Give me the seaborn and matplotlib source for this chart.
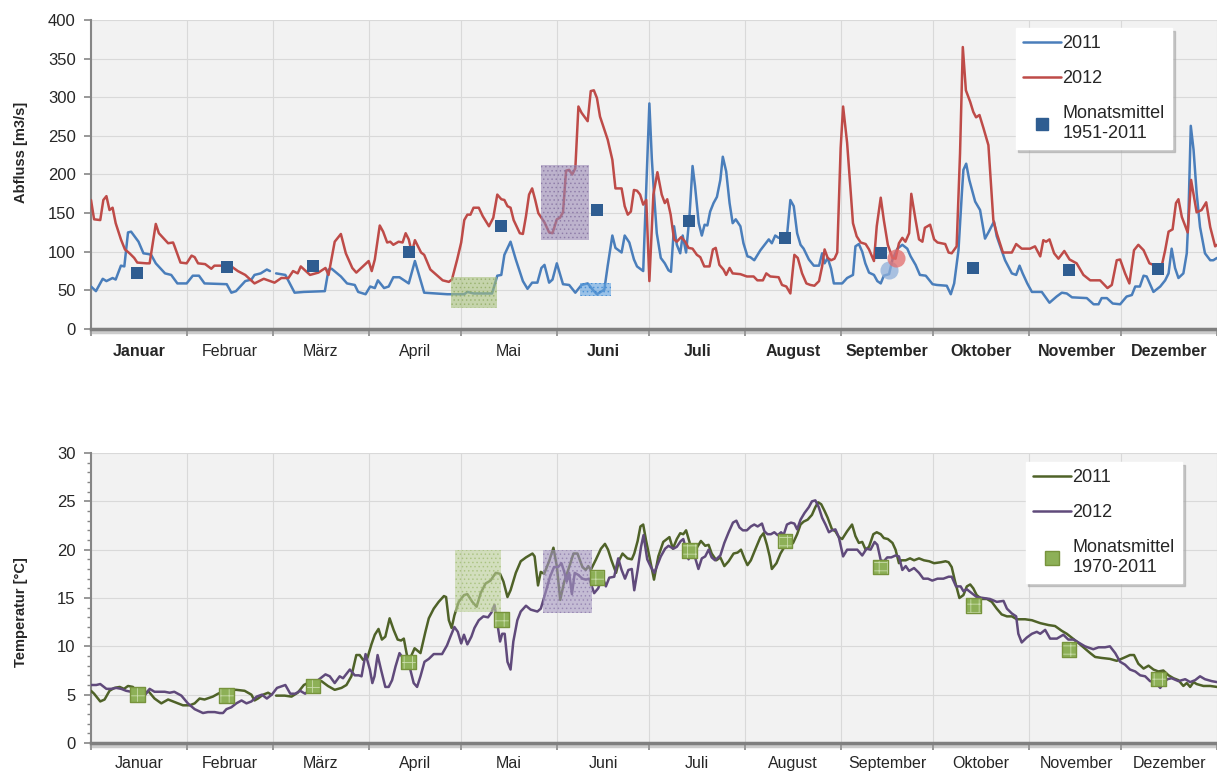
import numpy as np
import pandas as pd
import matplotlib
matplotlib.use("Agg")
import matplotlib.pyplot as plt
import matplotlib.patheffects as pe
from matplotlib.lines import Line2D
from matplotlib.ticker import FixedLocator, MultipleLocator
import seaborn as sns

# ---------------- data ----------------
months = ["Januar", "Februar", "März", "April", "Mai", "Juni", "Juli",
          "August", "September", "Oktober", "November", "Dezember"]
month_starts = [0, 31, 59, 90, 120, 151, 181, 212, 243, 273, 304, 334, 365]
month_centers = [15.5, 45, 74.5, 105, 135.5, 166, 196.5, 227.5, 258, 288.5, 319.5, 349.5]
mean_days = [15, 44, 72, 103, 133, 164, 194, 225, 256, 286, 317, 346]

q_mean = [73, 80, 82, 100, 133, 154, 140, 118, 98, 79, 76, 78]
t_mean = [5.0, 4.9, 5.9, 8.4, 12.8, 17.1, 19.9, 20.9, 18.2, 14.2, 9.7, 6.6]

q2011_days = [0, 1.6, 3.8, 5, 7, 8, 9.7, 10.8, 12, 13, 15.4, 17, 18.6, 19.5, 21, 24, 26, 28, 31, 33, 35, 36.8,
              44, 45.5, 47, 50, 52, 53, 55, 57, 58, 59,
              60, 63, 66, 69, 75.8, 77, 78, 81, 83, 85.5, 86.6, 89, 90.5, 92, 93, 95, 96.5, 98, 100, 103, 105,
              108, 115.5, 121, 122, 124, 130, 131.7, 133, 134, 136, 137.7, 140, 141.5, 143, 144.7, 146, 147,
              148.5, 149.6, 151, 153, 155, 157, 159, 161, 162.6, 164, 166.4, 167.5, 169, 170, 172, 173, 174.5,
              176, 177, 179, 181, 181.8, 182.5, 183.4, 184.7, 186, 187.2, 188, 189, 189.9, 191, 191.8, 192.9,
              194, 195, 195.8, 197, 198, 198.9, 199.8, 200.7, 201.8, 202.9, 204, 204.8, 205.9, 207, 208, 209,
              210.5, 211.5, 212.8, 213.7, 215, 217, 219.7, 220.7, 221.8, 222.9, 224, 225.4, 226.7, 227.8, 228.9,
              230, 231, 232.7, 234.3, 236, 237, 237.8, 238.8, 239.9, 240.8, 243.5, 245.1, 247, 247.8, 248.9,
              250, 251, 252.2, 253.8, 254.9, 256, 257, 258.7, 259.8, 261.4, 263, 264.6, 265.7, 267.3, 268.7,
              270.6, 272.8, 274.2, 277.4, 278.7, 279.8, 281.2, 282.3, 282.8, 283.7, 284.7, 286.6, 288.2, 289.8,
              290.9, 292.7, 293.6, 296.3, 298.5, 299.9, 301, 302, 303.5, 305, 308.2, 310.7, 313, 314.7, 316.3,
              318, 322.8, 325, 326.6, 327.6, 329.3, 331.2, 333.6, 335.7, 337.4, 338.5, 340, 341.2, 342.2, 344.4,
              346.6, 348.2, 349.3, 350.3, 351.4, 352.5, 354.1, 355.2, 355.7, 356.5, 357.4, 358.4, 359.5, 361.1,
              362.8, 363.8, 365]
q2011_vals = [55, 49, 65, 62, 66, 64, 82, 81, 125, 126, 113, 98, 97, 96, 85, 72, 70, 59, 59, 69, 69, 59,
              58, 47, 49, 62, 64, 70, 72, 77, 75, np.nan,
              72, 70, 47, 48, 49, 77, 78, 68, 59, 57, 48, 45, 55, 53, 63, 53, 55, 67, 67, 59, 88,
              47, 45, 45, 48, 46, 46, 69, 70, 96, 113, 90, 62, 52, 60, 60, 79, 83,
              60, 64, 85, 58, 57, 47, 57, 59, 51, 45, 51, 82, 121, 105, 99, 121, 112,
              90, 81, 75, 292, 220, 175, 124, 92, 85, 76, 74, 133, 109, 98, 121, 99,
              146, 211, 185, 137, 121, 135, 134, 152, 163, 171, 193, 223, 204, 163, 137, 142,
              133, 111, 94, 93, 89, 102, 116, 111, 121, 118, 118, 112, 167, 159, 124,
              109, 104, 90, 82, 82, 98, 85, 92, 78, 59, 59, 66, 70, 107, 110,
              100, 85, 73, 70, 62, 59, 69, 71, 90, 104, 109, 104, 94, 83, 70,
              69, 58, 57, 56, 45, 59, 102, 176, 206, 214, 193, 165, 154, 117,
              125, 139, 120, 89, 72, 70, 82, 72, 59, 48, 48, 34, 42, 47, 46,
              41, 40, 32, 32, 40, 40, 33, 32, 42, 44, 55, 55, 69, 68, 48,
              55, 63, 72, 104, 79, 66, 72, 98, 141, 263, 232, 176, 132, 98,
              89, 89, 92]

q2012_days = [0, 1, 3, 4, 5, 6, 7, 8, 9.7, 11, 12.5, 14, 15, 18, 19, 21, 22, 25, 26.6, 27, 29, 31, 32.6, 33.6,
              34.7, 37, 39, 40, 43, 45.5, 47.6, 50, 53, 56, 59.5, 61.7, 64, 65.5, 67, 68, 71, 73.7, 76, 77, 79,
              81, 82.6, 84.7, 86, 87.6, 90, 91, 92, 93.6, 94.7, 96, 97, 98, 99.7, 101, 102, 103, 104, 105, 107,
              108, 110, 112, 114, 116, 117, 118.7, 120, 121, 122, 123, 124, 125.7, 127, 129, 130.4, 131.7, 133,
              134, 135, 136, 137, 139, 140, 141, 142, 143, 144, 145, 147, 148.5, 149.6, 151, 152, 153, 154, 155,
              156, 157, 158, 159, 161, 162, 163, 164, 165, 167.5, 169, 170, 172, 173, 174, 175, 176, 177, 178,
              179, 180, 181, 182.3, 183.6, 185, 186, 186.8, 187.9, 189, 189.9, 191.3, 192.6, 193.7, 195, 196.4,
              197.5, 198.8, 200.5, 201.6, 202.5, 203.7, 205, 205.9, 207, 208, 210.5, 212.6, 214.8, 216, 217.8,
              218.9, 220.2, 222.9, 224, 225.4, 226.7, 228, 229.1, 230.5, 231.9, 233.2, 234.5, 236, 237, 237.8,
              238.8, 239.9, 241, 241.9, 243, 243.8, 245.1, 246.2, 247, 248.2, 249.5, 251.1, 252.2, 253.8, 254.7,
              256, 257, 258.3, 259.8, 260.8, 261.9, 263, 264, 265.2, 265.9, 267.3, 268.4, 269.5, 270.3, 272,
              273.3, 274.4, 276.9, 278, 279, 280.6, 281.7, 282.6, 283.6, 285, 286, 286.9, 288, 289.3, 290.9,
              292.5, 293.6, 295.6, 298.5, 299.9, 301.7, 304.4, 306, 307.7, 308.7, 309.6, 310.7, 312.2, 313.6,
              315.5, 317.2, 319.5, 321.7, 323.9, 327.1, 329.5, 330.9, 332.5, 333.6, 335.2, 336.6, 338.1, 339.5,
              341.2, 343.1, 344.4, 347.1, 348.2, 349.3, 350.6, 351.7, 352.5, 353.6, 355.5, 356.6, 358.4, 360,
              361.5, 362.8, 364.4, 365]
q2012_vals = [167, 142, 141, 167, 172, 154, 157, 137, 116, 103, 98, 92, 86, 85, 85, 136, 124, 111, 112, 108, 86, 85, 95, 93,
              85, 84, 78, 82, 82, 81, 75, 70, 59, 65, 60, 66, 66, 75, 72, 81, 70, 73, 79, 70, 113,
              123, 98, 79, 73, 79, 88, 75, 90, 134, 126, 112, 113, 109, 113, 112, 124, 116, 99, 115, 99,
              96, 77, 70, 63, 61, 64, 90, 112, 141, 148, 148, 157, 157, 146, 133, 144, 174, 168,
              167, 159, 157, 141, 124, 123, 146, 174, 182, 167, 150, 138, 125, 124, 142, 144, 151, 205, 206,
              200, 208, 288, 280, 269, 308, 309, 299, 275, 245, 219, 182, 182, 159, 148, 152, 180, 179, 174,
              161, 167, 62, 174, 203, 174, 163, 168, 148, 116, 113, 119, 113, 105, 104, 96,
              93, 81, 81, 103, 105, 83, 77, 70, 79, 72, 71, 68, 68, 63, 63,
              72, 68, 67, 57, 55, 46, 96, 92, 72, 59, 57, 56, 62, 81, 103,
              92, 89, 91, 99, 234, 288, 241, 180, 137, 120, 112, 110, 103, 88, 133,
              170, 141, 109, 92, 91, 111, 118, 113, 124, 175, 141, 116, 113, 131, 135,
              116, 112, 110, 99, 98, 107, 227, 365, 309, 294, 281, 274, 277, 260, 238,
              141, 124, 99, 99, 110, 104, 104, 107, 94, 115, 113, 116, 98, 91,
              101, 90, 85, 70, 63, 63, 53, 57, 89, 90, 72, 59, 102, 109,
              102, 85, 83, 82, 102, 126, 129, 163, 168, 145, 125, 193, 151, 154,
              164, 132, 107, 109]

t2011_days = [0, 1, 3, 4.4, 6, 7.6, 9.3, 10.7, 12, 13.6, 15.2, 16.8, 18.5, 20.6, 22.8, 25, 26.6, 28.2, 29.8, 32,
              33.6, 35.2, 36.8, 39.5, 41.2, 43.3, 45, 47.1, 49.8, 52, 53, 54.1, 55.8, 57.4, 58.5, 59,
              60, 62.8, 65, 67, 69, 70.9, 73, 74.7, 76.8, 79, 81.2, 82.8, 84.4, 86, 87.1, 88.2, 89.6, 90.9, 92,
              93.2, 94.3, 95.4, 96.8, 98.1, 99.4, 100.5, 101.4, 102.7, 103.5, 104.9, 106.8, 108.4, 109.5, 111.1,
              112.7, 114.4, 115.1, 116, 116.9, 117.8, 119.2, 120.9, 122, 123.6, 125, 126.3, 127.9, 129.5, 131.2,
              132.6, 133.7, 135, 136, 137.7, 139.3, 141, 143.1, 143.8, 144.9, 145.8, 146.9, 148.5, 149.9, 151,
              152.1, 153.4, 155, 156.4, 157.7, 159.3, 160.4, 161.2, 162, 163.7, 165.3, 166.6, 167.6, 168.7,
              170.2, 171.2, 172.3, 173.9, 175.3, 176.1, 177.2, 178.1, 179, 179.9, 181, 182.5, 183.9, 185.5,
              187.5, 188.6, 189.9, 191, 192, 192.9, 194, 194.7, 196.2, 197.7, 199.1, 200.2, 201.2, 202.7, 204,
              205.3, 206.7, 208.3, 209.6, 210.7, 211.8, 212.8, 213.9, 215.3, 217, 218, 219.1, 220, 220.7,
              222.2, 223.5, 224.8, 226.2, 227.6, 228.9, 230, 231, 232.3, 233.7, 234.8, 235.7, 236.7, 237.8,
              238.8, 240.2, 241.3, 242.4, 243.5, 245.1, 246.7, 247.8, 248.9, 250, 251.1, 252.2, 253.6, 254.7,
              256, 257, 258.3, 259.8, 260.8, 261.9, 262.7, 264.1, 265.5, 266.8, 268.4, 270, 271.7, 273.3,
              275.5, 277, 278, 279, 280.1, 281.5, 282.8, 283.9, 285, 286, 287.1, 288.7, 290.4, 292, 293.6,
              295.2, 296.9, 298.5, 300.1, 302.8, 305, 307.7, 310.4, 312.5, 314.7, 316.3, 317.9, 319.5, 321.7,
              323.9, 325.5, 327.6, 330.3, 332.5, 334.7, 336.8, 338.1, 339.5, 341.2, 342.8, 344.4, 346, 347.6,
              349.3, 350.9, 352.5, 354.1, 355.2, 356.3, 357.4, 358.4, 360.6, 362.8, 365]
t2011_vals = [5.4, 5.1, 4.3, 4.5, 5.4, 5.7, 5.8, 5.6, 5.9, 5.8, 5.0, 4.8, 5.4, 4.6, 4.1, 4.5, 4.3, 4.1, 3.9, 3.9,
              4.1, 4.6, 4.5, 4.8, 5.1, 5.4, 5.5, 5.5, 5.4, 5.0, 4.4, 4.6, 5.0, 5.2, 5.0, np.nan,
              4.9, 4.9, 4.8, 5.2, 6.0, 6.3, 6.4, 6.4, 5.9, 5.5, 5.7, 6.0, 6.9, 9.1, 9.1, 8.6, 8.8, 10.2, 11.2,
              11.8, 10.7, 11.0, 12.9, 11.7, 10.7, 10.6, 10.8, 8.6, 8.8, 9.8, 9.3, 11.5, 12.9, 13.9,
              14.6, 15.2, 15.1, 12.7, 11.9, 13.2, 14.6, 15.3, 15.4, 14.6, 14.1, 15.5, 16.5, 16.8, 17.6,
              17.5, 16.7, 15.1, 15.8, 17.6, 18.8, 19.2, 19.6, 19.3, 16.3, 17.7, 17.5, 18.8, 20.2, 18.3,
              14.8, 16.7, 18.2, 19.6, 19.6, 18.2, 17.9, 18.3, 17.9, 19.0, 20.1, 20.6, 20.0, 18.9,
              17.6, 18.9, 19.6, 19.1, 19.0, 19.6, 20.9, 22.4, 22.6, 21.0, 19.3, 16.9, 19.3, 20.8,
              21.3, 20.1, 21.1, 21.7, 21.6, 22.0, 20.8, 19.4, 20.1, 20.9, 20.4, 20.5, 19.6, 18.9, 19.2,
              18.3, 18.8, 19.6, 19.7, 20.0, 19.1, 18.4, 18.9, 20.0, 21.3, 21.7, 20.5, 19.3, 18.0,
              18.6, 19.6, 20.3, 20.3, 20.7, 21.6, 22.6, 22.9, 23.1, 23.6, 24.4, 24.9, 24.7, 24.0,
              23.3, 22.1, 21.9, 21.3, 21.1, 21.9, 22.6, 21.4, 20.7, 20.8, 20.0, 20.3, 21.6, 21.8,
              21.6, 21.2, 21.1, 20.7, 20.0, 18.6, 18.9, 18.9, 19.1, 18.9, 19.1, 18.9, 18.8, 18.6,
              18.7, 18.8, 18.7, 18.2, 16.7, 15.0, 15.3, 16.2, 16.4, 16.0, 15.3, 14.9, 14.9, 14.6, 13.9,
              13.3, 13.1, 13.1, 12.8, 12.8, 12.7, 12.4, 12.2, 12.1, 11.6, 11.3, 10.9, 10.5, 9.9,
              9.3, 8.9, 8.8, 8.7, 8.5, 8.8, 9.1, 9.1, 8.2, 7.7, 8.0, 7.6, 7.4, 7.5,
              7.0, 6.7, 6.5, 5.9, 6.2, 5.8, 6.3, 6.1, 5.9, 5.9, 5.8]

t2012_days = [0, 1.7, 3, 5, 6.5, 8.2, 9.8, 11.4, 13, 14.7, 16.3, 17.6, 19, 20.6, 23.9, 25.5, 27, 29.3, 31.4,
              33.6, 36.3, 37.9, 40.1, 41.7, 42.8, 43.9, 45.5, 47.1, 48.8, 50.4, 52, 53.7, 55.4, 57, 58.6,
              60.3, 63, 64.6, 66.2, 67.8, 69.4, 71, 73.6, 76, 77.4, 79, 80.6, 81.7, 83.9, 85.5, 86.8, 87.7,
              89, 90.4, 91.2, 91.9, 92.9, 94, 95.4, 96.5, 97.6, 98.7, 100, 101.1, 102.2, 103.5, 104.6, 105.7,
              106.8, 108.1, 109.5, 111.1, 113.8, 115.4, 116.5, 117.8, 118.9, 120, 120.9, 122, 123.3, 124.3,
              125.7, 127.2, 128.7, 129.8, 130.8, 131.7, 132.6, 133.3, 134.1, 135, 136, 136.9, 138.2, 139.3,
              141, 142.5, 144.7, 145.8, 147.1, 148.8, 150.1, 151.4, 152.5, 153.4, 154.2, 155, 155.9, 156.8,
              157.9, 159.3, 160.4, 161.5, 163.1, 164.4, 165.8, 166.9, 168, 169.6, 170.9, 172, 173.1, 174.2,
              175.3, 176.1, 177.2, 178.3, 179.1, 180.3, 181.5, 182.6, 183.7, 184.7, 186.1, 187.2, 188.8,
              189.9, 191.2, 192, 192.9, 193.7, 194.7, 195.8, 196.9, 198, 199.1, 200.2, 201.2, 202.3, 204,
              205.3, 206.7, 208.1, 209.2, 210.2, 211.3, 212.6, 213.9, 215, 216.1, 217.5, 218.3, 219.3,
              220.4, 221.5, 222.6, 223.7, 224.5, 225.6, 226.9, 228, 228.9, 230, 231.3, 232.7, 233.7, 234.8,
              235.9, 237, 238.1, 239.2, 240.2, 241.3, 242.4, 243.8, 245.1, 246.7, 248.4, 250, 251.4, 252.7,
              254, 254.9, 256, 257, 258.1, 259.4, 260.8, 261.9, 263, 264.1, 265.2, 266.8, 268.4, 269.8,
              271.3, 272.7, 274.4, 276.3, 278, 279, 280.4, 281.9, 282.8, 283.9, 285.5, 287.1, 289.3, 291.4,
              293.6, 295.8, 296.9, 298.5, 299.9, 300.6, 301.7, 303.3, 305, 306.6, 307.7, 309.3, 310.9, 313.1,
              315.2, 316.8, 318.5, 320.1, 322.2, 324.9, 326.6, 328.7, 330.3, 332, 333.6, 335.2, 336.8, 338.5,
              340.1, 341.7, 343.3, 344.9, 346.6, 347.6, 348.9, 350.3, 352.5, 354.7, 356.3, 357.9, 359.5,
              361.1, 363.3, 365]
t2012_vals = [6.0, 6.0, 6.1, 5.6, 5.6, 5.7, 5.6, 5.4, 5.3, 5.0, 4.6, 5.0, 5.6, 5.3, 5.3, 5.2, 5.3, 4.9, 4.1,
              3.5, 3.1, 3.2, 3.2, 3.1, 3.1, 3.5, 3.7, 4.1, 4.4, 4.1, 4.3, 4.8, 5.0, 4.6, 5.0,
              5.7, 6.0, 5.1, 5.1, 5.4, 5.1, 5.5, 6.5, 7.1, 6.9, 6.2, 6.9, 6.7, 7.6, 7.0, 7.0, 6.9,
              9.2, 7.6, 6.2, 6.9, 9.1, 7.6, 5.8, 5.8, 6.5, 7.9, 9.3, 8.8, 9.0, 7.6, 6.2, 5.8,
              6.9, 8.4, 8.7, 9.2, 9.2, 10.1, 11.0, 12.0, 11.5, 10.3, 11.2, 10.2, 11.0, 11.9,
              12.7, 13.1, 13.0, 13.5, 14.3, 12.4, 10.5, 11.3, 11.3, 8.4, 7.6, 10.5, 12.7, 13.6,
              14.2, 13.8, 13.6, 13.9, 15.3, 17.2, 18.2, 18.2, 18.6, 17.7, 16.7, 17.6, 15.4, 17.6,
              17.4, 17.0, 16.9, 17.0, 15.5, 16.0, 17.2, 16.2, 17.1, 17.2, 19.1, 17.9, 17.0, 17.9,
              18.0, 15.8, 17.9, 20.3, 21.5, 19.0, 18.2, 17.6, 18.5, 19.3, 20.1, 20.4, 20.1,
              20.3, 20.9, 21.1, 20.0, 19.0, 19.8, 19.2, 18.0, 19.1, 19.3, 20.0, 19.2, 18.9, 19.4,
              20.7, 21.8, 22.8, 23.0, 22.3, 22.0, 22.0, 22.4, 22.6, 22.4, 22.7, 21.9, 21.6,
              21.6, 21.8, 21.5, 21.8, 21.5, 22.6, 22.8, 22.7, 22.1, 23.1, 23.8, 24.4, 25.0, 25.1,
              24.4, 23.3, 22.6, 21.8, 22.0, 22.1, 21.3, 19.3, 20.0, 20.0, 20.0, 19.4, 20.1, 20.0,
              20.8, 20.5, 18.9, 18.8, 19.2, 19.2, 19.4, 19.3, 17.9, 18.3, 17.8, 18.1, 17.6, 17.0,
              17.0, 16.8, 17.0, 17.0, 17.2, 17.2, 16.2, 16.2, 15.7, 15.9, 15.5, 15.1, 15.0, 14.9,
              14.6, 14.7, 13.9, 13.4, 13.1, 11.3, 10.4, 10.9, 11.3, 11.5, 11.3, 11.7, 10.8, 10.8,
              11.2, 10.7, 10.7, 10.4, 10.0, 9.7, 9.9, 9.9, 10.0, 9.3, 8.4, 8.1, 7.6, 7.4,
              7.0, 6.9, 6.4, 6.3, 5.7, 6.2, 6.6, 6.7, 6.4, 6.6, 6.3, 6.5, 6.9,
              6.6, 6.4, 6.3]

# shaded periods (day from, day to, value from, value to)
q_box_x0 = [116.8, 145.8, 158.5]
q_box_x1 = [131.7, 161.4, 168.5]
q_box_y0 = [27, 115, 43]
q_box_y1 = [67, 212, 60]
t_box_x0 = [118.0, 146.4]
t_box_x1 = [132.8, 162.3]
t_box_y0 = [13.6, 13.5]
t_box_y1 = [20.0, 20.0]

# highlighted points (September)
hl_days = [258.7, 261.1]
hl_vals = [77, 92]

# ---------------- styling ----------------
sns.set_style("whitegrid", rc={
    "axes.facecolor": "#f2f2f2",
    "grid.color": "#d9d9d9",
    "grid.linewidth": 1.3,
    "axes.edgecolor": "#868686",
})
plt.rcParams["font.family"] = ["Liberation Sans", "DejaVu Sans"]
plt.rcParams["hatch.linewidth"] = 0.6

C_BLUE = "#4a7ebb"
C_RED = "#be4b48"
C_QMEAN = "#2f5d91"
C_GREEN = "#4f6228"
C_PURPLE = "#604a7b"
C_TMEAN = "#8db057"

fig = plt.figure(figsize=(12.17, 7.72), dpi=100)
ax1 = fig.add_axes([91 / 1217, 1 - 329 / 772, 1126 / 1217, 309 / 772])
ax2 = fig.add_axes([91 / 1217, 1 - 743 / 772, 1126 / 1217, 290 / 772])


def series_df(days, vals):
    df = pd.DataFrame({"day": days, "val": vals})
    df["seg"] = df["val"].isna().cumsum()
    return df.dropna()


def style_axis(ax, ymax, ystep, ylabel, ylabel_y, bold_months, minor_y, xpad):
    ax.set_xlim(0, 365)
    ax.set_ylim(0, ymax)
    ax.set_yticks(np.arange(0, ymax + 0.1, ystep))
    ax.xaxis.set_major_locator(FixedLocator(month_starts))
    ax.xaxis.set_minor_locator(FixedLocator(month_centers))
    ax.set_xticklabels([], minor=False)
    ax.set_xticklabels(months, minor=True)
    for lab, b in zip(ax.get_xticklabels(minor=True), bold_months):
        lab.set_fontweight("bold" if b else "normal")
    ax.tick_params(axis="x", which="major", length=5, width=1.2, color="#868686",
                   direction="out", bottom=True)
    ax.tick_params(axis="x", which="minor", length=0, pad=xpad, labelsize=11.5)
    ax.tick_params(axis="y", which="major", length=5, width=1.2, color="#868686",
                   direction="out", left=True, labelsize=12, pad=6)
    if minor_y:
        ax.yaxis.set_minor_locator(MultipleLocator(1))
        ax.tick_params(axis="y", which="minor", length=3, width=1, color="#868686", left=True)
    ax.grid(True, which="major", axis="both")
    ax.grid(False, which="minor")
    for s in ["top", "right"]:
        ax.spines[s].set_visible(False)
    ax.spines["left"].set_linewidth(1.5)
    ax.spines["left"].set_color("#868686")
    ax.spines["bottom"].set_linewidth(2.5)
    ax.spines["bottom"].set_color("#7f7f7f")
    ax.spines["bottom"].set_path_effects([
        pe.SimpleLineShadow(offset=(0, -2.5), shadow_color="#9a9a9a", alpha=0.5),
        pe.Normal()])
    ax.set_xlabel("")
    ax.set_ylabel(ylabel, fontsize=10.5, fontweight="bold")
    ax.yaxis.set_label_coords(-0.056, ylabel_y)


LEG_KW = dict(loc="upper right", borderaxespad=0, fontsize=13, frameon=True,
              fancybox=False, framealpha=1, facecolor="white", edgecolor="white",
              handlelength=2.1, handletextpad=0.1, labelspacing=1.0, borderpad=0.4,
              shadow={"color": "#a8a8a8", "alpha": 0.6})

# ---------------- top: Abfluss ----------------
d11 = series_df(q2011_days, q2011_vals)
d12 = series_df(q2012_days, q2012_vals)
sns.lineplot(data=d11, x="day", y="val", units="seg", estimator=None, color=C_BLUE,
             linewidth=1.8, ax=ax1, zorder=3)
sns.lineplot(data=d12, x="day", y="val", units="seg", estimator=None, color=C_RED,
             linewidth=1.8, ax=ax1, zorder=3)
for x0, x1, y0, y1, fc, hc in zip(q_box_x0, q_box_x1, q_box_y0, q_box_y1,
                                  ["#a8c07c", "#9a89b5", "#5fa3e2"],
                                  ["#8aa65a", "#7b6699", "#2f7fcf"]):
    ax1.fill_between([x0, x1], [y0, y0], [y1, y1], facecolor=fc, edgecolor=hc,
                     hatch="....", linewidth=0, alpha=0.6, zorder=4)
sns.scatterplot(x=mean_days, y=q_mean, marker="s", s=85, color=C_QMEAN,
                edgecolor=C_QMEAN, linewidth=0, ax=ax1, zorder=5)
sns.scatterplot(x=hl_days[:1], y=hl_vals[:1], s=170, color="#8fb0db", alpha=0.75,
                linewidth=0, ax=ax1, zorder=5)
sns.scatterplot(x=hl_days[1:], y=hl_vals[1:], s=170, color="#e36b6b", alpha=0.75,
                linewidth=0, ax=ax1, zorder=5)
style_axis(ax1, 400, 50, "Abfluss [m3/s]", 0.57,
           [True, False, False, False, False, True, True, True, True, True, True, True],
           False, 11)

h1 = [Line2D([], [], color=C_BLUE, lw=1.8),
      Line2D([], [], color=C_RED, lw=1.8),
      Line2D([], [], color=C_QMEAN, marker="s", markersize=9, lw=0)]
leg1 = ax1.legend(h1, ["2011", "2012", "Monatsmittel\n1951-2011"],
                  bbox_to_anchor=(0.96, 0.975), **LEG_KW)
leg1.set_zorder(10)

# ---------------- bottom: Temperatur ----------------
e11 = series_df(t2011_days, t2011_vals)
e12 = series_df(t2012_days, t2012_vals)
sns.lineplot(data=e11, x="day", y="val", units="seg", estimator=None, color=C_GREEN,
             linewidth=1.8, ax=ax2, zorder=3)
sns.lineplot(data=e12, x="day", y="val", units="seg", estimator=None, color=C_PURPLE,
             linewidth=1.8, ax=ax2, zorder=3)
for x0, x1, y0, y1, fc, hc in zip(t_box_x0, t_box_x1, t_box_y0, t_box_y1,
                                  ["#bdd19a", "#a698c0"], ["#9bb86a", "#8773a6"]):
    ax2.fill_between([x0, x1], [y0, y0], [y1, y1], facecolor=fc, edgecolor=hc,
                     hatch="....", linewidth=0, alpha=0.6, zorder=4)
sns.scatterplot(x=mean_days, y=t_mean, marker="s", s=110, color=C_TMEAN,
                edgecolor="#c9dcaa", linewidth=0, hatch="++", ax=ax2, zorder=5)
sns.scatterplot(x=mean_days, y=t_mean, marker="s", s=110, facecolor="none",
                edgecolor="#77933c", linewidth=1.0, ax=ax2, zorder=6)
style_axis(ax2, 30, 5, "Temperatur [°C]", 0.452, [False] * 12, True, 9.5)

h2 = [Line2D([], [], color=C_GREEN, lw=1.8),
      Line2D([], [], color=C_PURPLE, lw=1.8),
      Line2D([], [], color=C_TMEAN, marker="s", markersize=10, markeredgecolor="#77933c", lw=0)]
leg2 = ax2.legend(h2, ["2011", "2012", "Monatsmittel\n1970-2011"],
                  bbox_to_anchor=(0.969, 0.969), **LEG_KW)
leg2.set_zorder(10)

fig.savefig("out.png", dpi=100, facecolor="white")
